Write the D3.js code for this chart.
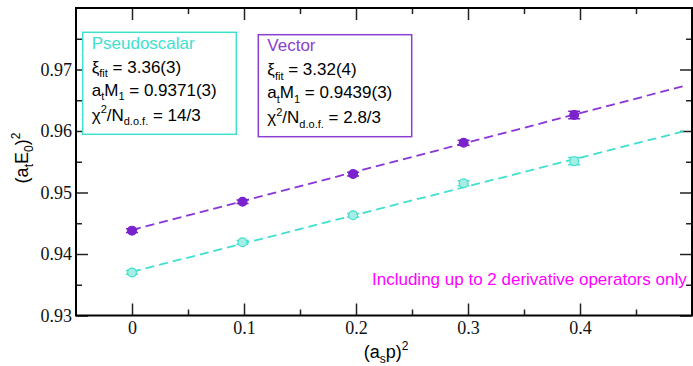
<!DOCTYPE html>
<html>
<head>
<meta charset="utf-8">
<script src="https://cdn.jsdelivr.net/npm/d3@7"></script>
<style>
  html, body { margin: 0; padding: 0; background: #fff; }
  svg { display: block; }
  .sans { font-family: "Liberation Sans", Arial, Helvetica, sans-serif; }
  .serif { font-family: "Liberation Serif", "Times New Roman", serif; }
</style>
</head>
<body>
<svg id="chart" width="693" height="366"></svg>
<script>
// Squared lattice momenta (a_s p)^2 for n = 0..4
const momenta = [0, 0.0987, 0.1974, 0.2961, 0.3948];

// (a_t E_0)^2 for each channel, with statistical errors
const vectorE2 = [0.9438, 0.9485, 0.9530, 0.9581, 0.9626];
const vectorErr = [0.0003, 0.0003, 0.0003, 0.0004, 0.0006];
const pseudoE2 = [0.9370, 0.9419, 0.9463, 0.9515, 0.9551];
const pseudoErr = [0.0003, 0.0003, 0.0003, 0.0004, 0.0006];

// Linear dispersion fits: [intercept, slope], drawn over fitRange
const vectorFit = [0.9439, 0.0475];
const pseudoFit = [0.9371, 0.0464];
const fitRange = [0, 0.495];

// Axis ticks
const xMajor = [0, 0.1, 0.2, 0.3, 0.4];
const xLabels = ["0", "0.1", "0.2", "0.3", "0.4"];
const xMinor = [0.05, 0.15, 0.25, 0.35, 0.45];
const yMajor = [0.93, 0.94, 0.95, 0.96, 0.97];
const yLabels = ["0.93", "0.94", "0.95", "0.96", "0.97"];
const yMinor = [0.935, 0.945, 0.955, 0.965, 0.975];

const colVector = "#7a22cc";
const colVectorLine = "#8a35d8";
const colVectorBox = "#8a3fd0";
const colPseudo = "#40e0d0";
const colPseudoFill = "#a6eee4";
const colNote = "#ff00ff";

const svg = d3.select("#chart");
const plotL = 76, plotT = 8, plotR = 692, plotB = 315.5;

const x = d3.scaleLinear().domain([-0.05, 0.5]).range([plotL, plotR]);
const y = d3.scaleLinear().domain([0.93, 0.98]).range([plotB, plotT]);

// ---- axes (ticks point inward, mirrored on top/right) ----
function styleAxis(g) {
  g.select(".domain").remove();
  g.selectAll(".tick line").attr("stroke", "#222").attr("stroke-width", 1.5);
}

const tickLab = (vals, labs) => d => labs[vals.indexOf(d)];

svg.append("g").attr("transform", `translate(0,${plotB})`)
  .call(d3.axisBottom(x).tickValues(xMajor).tickFormat(tickLab(xMajor, xLabels)).tickSize(-12).tickPadding(6))
  .call(styleAxis)
  .call(g => g.selectAll("text").attr("class", "serif").attr("font-size", 18).attr("fill", "#111"));
svg.append("g").attr("transform", `translate(0,${plotB})`)
  .call(d3.axisBottom(x).tickValues(xMinor).tickFormat("").tickSize(-6))
  .call(styleAxis);

svg.append("g").attr("transform", `translate(0,${plotT})`)
  .call(d3.axisTop(x).tickValues(xMajor).tickFormat("").tickSize(-12))
  .call(styleAxis);
svg.append("g").attr("transform", `translate(0,${plotT})`)
  .call(d3.axisTop(x).tickValues(xMinor).tickFormat("").tickSize(-6))
  .call(styleAxis);

svg.append("g").attr("transform", `translate(${plotL},0)`)
  .call(d3.axisLeft(y).tickValues(yMajor).tickFormat(tickLab(yMajor, yLabels)).tickSize(-12).tickPadding(4))
  .call(styleAxis)
  .call(g => g.selectAll("text").attr("class", "serif").attr("font-size", 18).attr("fill", "#111"));
svg.append("g").attr("transform", `translate(${plotL},0)`)
  .call(d3.axisLeft(y).tickValues(yMinor).tickFormat("").tickSize(-6))
  .call(styleAxis);

svg.append("g").attr("transform", `translate(${plotR},0)`)
  .call(d3.axisRight(y).tickValues(yMajor).tickFormat("").tickSize(-12))
  .call(styleAxis);
svg.append("g").attr("transform", `translate(${plotR},0)`)
  .call(d3.axisRight(y).tickValues(yMinor).tickFormat("").tickSize(-6))
  .call(styleAxis);

// frame
svg.append("rect")
  .attr("x", plotL).attr("y", plotT)
  .attr("width", plotR - plotL).attr("height", plotB - plotT)
  .attr("fill", "none").attr("stroke", "#000").attr("stroke-width", 2);

// ---- fit lines ----
const line = d3.line().x(d => x(d[0])).y(d => y(d[1]));
function fitLine(fit, color) {
  const pts = fitRange.map(v => [v, fit[0] + fit[1] * v]);
  svg.append("path").datum(pts)
    .attr("d", line)
    .attr("fill", "none")
    .attr("stroke", color)
    .attr("stroke-width", 1.8)
    .attr("stroke-dasharray", "9,5");
}
fitLine(pseudoFit, colPseudo);
fitLine(vectorFit, colVectorLine);

// ---- data points with error bars ----
function series(vals, errs, stroke, fill) {
  const g = svg.append("g");
  const data = momenta.map((m, i) => ({ m, v: vals[i], e: errs[i] }));
  const cap = 6;
  g.selectAll("path.err").data(data).join("path")
    .attr("class", "err")
    .attr("d", d => {
      const cx = x(d.m), y1 = y(d.v + d.e), y2 = y(d.v - d.e);
      return `M${cx},${y1}V${y2}M${cx - cap},${y1}H${cx + cap}M${cx - cap},${y2}H${cx + cap}`;
    })
    .attr("stroke", stroke).attr("stroke-width", 1.5).attr("fill", "none");
  g.selectAll("circle").data(data).join("circle")
    .attr("cx", d => x(d.m)).attr("cy", d => y(d.v))
    .attr("r", 4.4)
    .attr("fill", fill).attr("stroke", stroke).attr("stroke-width", 1.2);
}
series(pseudoE2, pseudoErr, colPseudo, colPseudoFill);
series(vectorE2, vectorErr, colVector, colVector);

// ---- fit-result boxes ----
function resultBox(bx, by, bw, bh, color, title, xi, mass, chi) {
  svg.append("rect")
    .attr("x", bx).attr("y", by).attr("width", bw).attr("height", bh)
    .attr("fill", "#fff").attr("stroke", color).attr("stroke-width", 1.5);
  const tx = bx + 9;
  const t = svg.append("g").attr("class", "sans").attr("font-size", 17).attr("fill", "#000");
  t.append("text").attr("x", tx).attr("y", by + 16.5).attr("fill", color).text(title);

  const l1 = t.append("text").attr("x", tx).attr("y", by + 40.5);
  l1.append("tspan").text("ξ");
  l1.append("tspan").attr("font-size", 11).attr("dy", 4.5).text("fit");
  l1.append("tspan").attr("dy", -4.5).text(" = " + xi);

  const l2 = t.append("text").attr("x", tx).attr("y", by + 63.5);
  l2.append("tspan").text("a");
  l2.append("tspan").attr("font-size", 11).attr("dy", 4.5).text("t");
  l2.append("tspan").attr("dy", -4.5).text("M");
  l2.append("tspan").attr("font-size", 11).attr("dy", 4.5).text("1");
  l2.append("tspan").attr("dy", -4.5).text(" = " + mass);

  const l3 = t.append("text").attr("x", tx).attr("y", by + 88.5);
  l3.append("tspan").text("χ");
  l3.append("tspan").attr("font-size", 11).attr("dy", -7.5).text("2");
  l3.append("tspan").attr("dy", 7.5).text("/N");
  l3.append("tspan").attr("font-size", 11).attr("dy", 4.5).text("d.o.f.");
  l3.append("tspan").attr("dy", -4.5).text(" = " + chi);
}
resultBox(82.7, 32.3, 153.6, 102, colPseudo, "Pseudoscalar", "3.36(3)", "0.9371(3)", "14/3");
resultBox(258.3, 34.7, 153.4, 102, colVectorBox, "Vector", "3.32(4)", "0.9439(3)", "2.8/3");

// ---- annotation ----
svg.append("text").attr("class", "sans")
  .attr("x", 372).attr("y", 284.5)
  .attr("font-size", 17).attr("fill", colNote)
  .text("Including up to 2 derivative operators only");

// ---- axis titles ----
const xt = svg.append("text").attr("class", "sans")
  .attr("x", 386).attr("y", 358).attr("font-size", 18)
  .attr("text-anchor", "middle").attr("fill", "#000");
xt.append("tspan").text("(a");
xt.append("tspan").attr("font-size", 12).attr("dy", 5).text("s");
xt.append("tspan").attr("dy", -5).text("p)");
xt.append("tspan").attr("font-size", 12).attr("dy", -8).text("2");

const yt = svg.append("text").attr("class", "sans")
  .attr("transform", "translate(28,158) rotate(-90)")
  .attr("font-size", 18).attr("text-anchor", "middle").attr("fill", "#000");
yt.append("tspan").text("(a");
yt.append("tspan").attr("font-size", 12).attr("dy", 5).text("t");
yt.append("tspan").attr("dy", -5).text("E");
yt.append("tspan").attr("font-size", 12).attr("dy", 5).text("0");
yt.append("tspan").attr("dy", -5).text(")");
yt.append("tspan").attr("font-size", 12).attr("dy", -8).text("2");
</script>
</body>
</html>
